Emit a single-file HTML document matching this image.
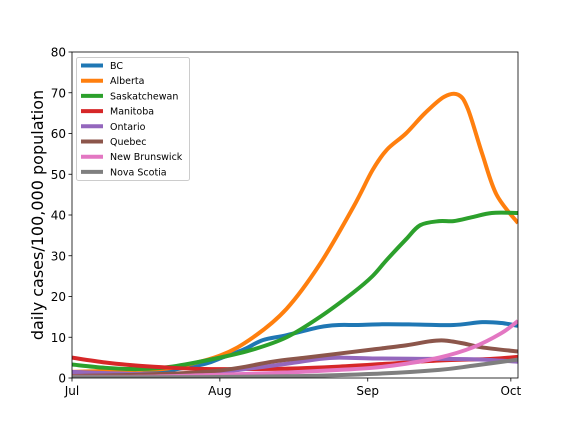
<!DOCTYPE html>
<html><head><meta charset="utf-8"><style>
body{margin:0;background:#fff;font-family:"Liberation Sans","DejaVu Sans",sans-serif}
svg text{font-family:"DejaVu Sans","Liberation Sans",sans-serif}
</style></head><body>
<svg id="chart" width="576" height="432" viewBox="0 0 576 432" xmlns="http://www.w3.org/2000/svg">
<defs><clipPath id="clip"><rect x="72" y="52" width="446" height="326"/></clipPath></defs>
<g id="lines" clip-path="url(#clip)"></g>
<rect x="72" y="52" width="446" height="326" fill="none" stroke="#000" stroke-width="0.8"/>
<g id="axes"></g>
<text x="43" y="215" font-size="16" text-anchor="middle" transform="rotate(-90 43 215)">daily cases/100,000 population</text>
<g id="legend"></g>
</svg>
<script>
const seriesNames=["BC","Alberta","Saskatchewan","Manitoba","Ontario","Quebec","New Brunswick","Nova Scotia"];
const colors=["#1f77b4","#ff7f0e","#2ca02c","#d62728","#9467bd","#8c564b","#e377c2","#7f7f7f"];
const bcDays=[0,7,14,21,28,31,36,40,45,52,56,60,66,73,80,86,90,93.5];
const bcVals=[1,0.8,1,2,3.5,4.8,7,9.3,10.5,12.5,13,13,13.2,13.1,13,13.7,13.5,12.8];
const abDays=[0,14,21,31,38,45,52,59,63,66,70,74,78,81,83,86,89,93.5];
const abVals=[1.5,2,2.5,5.5,10,17,28,42,51,56,60,65,69,69.5,66,55,45,38];
const skDays=[0,7,14,21,31,38,45,52,59,63,66,70,73,77,80,84,88,93.5];
const skVals=[3.3,2.5,2.2,2.8,5,7,10,15,21,25,29,34,37.5,38.5,38.5,39.5,40.5,40.5];
const mbDays=[0,7,14,21,28,35,45,56,66,77,88,93.5];
const mbVals=[5,3.8,3,2.5,2.2,2.2,2.3,2.8,3.5,4.3,4.7,5.2];
const onDays=[0,14,28,35,45,52,56,63,73,84,93.5];
const onVals=[1.5,1,1.2,2,3.5,4.7,5,4.8,4.7,4.6,4];
const qcDays=[0,14,28,35,42,49,56,63,70,75,78,82,86,93.5];
const qcVals=[0.5,0.8,1.5,2.5,4,5,6,7,8,9,9.2,8.5,7.5,6.5];
const nbDays=[0,14,28,42,56,63,70,77,84,90,93.5];
const nbVals=[0.3,0.3,0.7,1.2,2,2.5,3.5,5,7.5,11,14];
const nsDays=[0,28,49,63,77,84,93.5];
const nsVals=[0.2,0.2,0.5,1,2,3,4.5];
const allDays=[bcDays,abDays,skDays,mbDays,onDays,qcDays,nbDays,nsDays];
const allVals=[bcVals,abVals,skVals,mbVals,onVals,qcVals,nbVals,nsVals];
const xTickDays=[0,31,62,92];
const xTickLabels=["Jul","Aug","Sep","Oct"];
const yTicks=[0,10,20,30,40,50,60,70,80];

const NS="http://www.w3.org/2000/svg";
const X0=72,X1=518,Y0=378,Y1=52,DMAX=93.5,VMAX=80;
const xs=d=>X0+d*(X1-X0)/DMAX;
const ys=v=>Y0-v*(Y0-Y1)/VMAX;
function mk(t,a,p){const e=document.createElementNS(NS,t);for(const k in a)e.setAttribute(k,a[k]);p.appendChild(e);return e;}
function smooth(pts){let d=`M${pts[0][0]},${pts[0][1]}`;for(let i=0;i<pts.length-1;i++){const p0=pts[i-1]||pts[i],p1=pts[i],p2=pts[i+1],p3=pts[i+2]||p2;
d+=` C${p1[0]+(p2[0]-p0[0])/6},${p1[1]+(p2[1]-p0[1])/6} ${p2[0]-(p3[0]-p1[0])/6},${p2[1]-(p3[1]-p1[1])/6} ${p2[0]},${p2[1]}`;}return d;}
const lines=document.getElementById('lines');
seriesNames.forEach((n,i)=>{
 const pts=allDays[i].map((d,j)=>[xs(d),ys(allVals[i][j])]);
 const p=mk('path',{d:smooth(pts),fill:'none',stroke:colors[i],'stroke-width':4,'stroke-linejoin':'round'},lines);
 
 
});
const ax=document.getElementById('axes');
yTicks.forEach(v=>{
 const l=mk('line',{x1:X0-3.5,x2:X0,y1:ys(v),y2:ys(v),stroke:'#000','stroke-width':0.8},ax);
 
 
 const t=mk('text',{x:X0-6,y:ys(v)+4.5,'font-size':12,'text-anchor':'end'},ax);t.textContent=v;
 
 
});
xTickDays.forEach((d,i)=>{
 const l=mk('line',{x1:xs(d),x2:xs(d),y1:Y0,y2:Y0+3.5,stroke:'#000','stroke-width':0.8},ax);
 
 
 const t=mk('text',{x:xs(d),y:Y0+17,'font-size':12,'text-anchor':'middle'},ax);t.textContent=xTickLabels[i];
 
 
});
const lg=document.getElementById('legend');
const box=mk('rect',{x:76.5,y:57.5,width:113,height:123,rx:2,fill:'#fff','fill-opacity':0.8,stroke:'#ccc'},lg);


seriesNames.forEach((n,i)=>{
 const y=65.5+i*15.2;
 const l=mk('line',{x1:81,x2:103,y1:y,y2:y,stroke:colors[i],'stroke-width':4},lg);
 
 
 const t=mk('text',{x:110,y:y+3.5,'font-size':9.5},lg);t.textContent=n;
 
 
});
</script>
</body></html>
